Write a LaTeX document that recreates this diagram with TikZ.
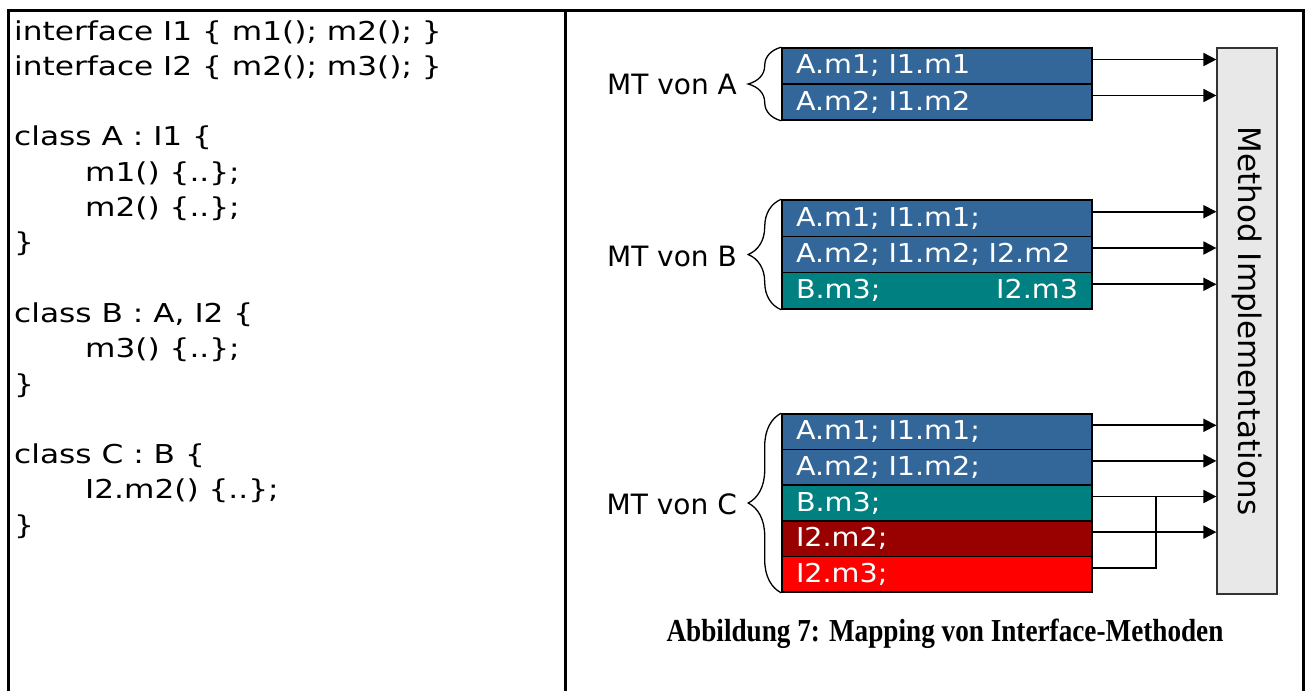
\documentclass[tikz,border=0pt]{standalone}
\usepackage{fontspec}
\setmainfont{DejaVu Sans}
\newfontfamily\codefont[FakeStretch=1.2]{DejaVu Sans}
\newfontfamily\cellfont[FakeStretch=1.1]{DejaVu Sans}
\newfontfamily\capfont[FakeStretch=0.85]{Liberation Serif}
\usetikzlibrary{arrows.meta,calc,decorations.pathreplacing}
\definecolor{mtblue}{HTML}{336699}
\definecolor{mtteal}{HTML}{008080}
\definecolor{mtdark}{HTML}{990000}
\definecolor{mtred}{HTML}{FF0000}
\definecolor{implgray}{HTML}{E8E8E8}
\begin{document}
\begin{tikzpicture}[x=1pt,y=-1pt,
  frame/.style={line width=3pt},
  code/.style={anchor=base west,inner sep=0pt,font=\codefont\fontsize{26pt}{30pt}\selectfont},
  cell/.style={draw=black,line width=1.6pt,minimum width=310pt,inner xsep=14pt,inner ysep=0pt,
    text=white,text width=282pt,align=left,font=\cellfont\fontsize{26pt}{30pt}\selectfont},
  mtlabel/.style={anchor=east,inner sep=0pt,font=\fontsize{28pt}{32pt}\selectfont},
  mtbrace/.style={decorate,decoration={brace,amplitude=33pt},line width=1.3pt},
  arr/.style={line width=1.8pt,-{Triangle[length=13pt,width=13pt]}},
  link/.style={line width=1.8pt}
]
\useasboundingbox (0,0) rectangle (1308,691);

% outer frame and column divider
\draw[frame] (8.5,691) -- (8.5,10) -- (1303.5,10) -- (1303.5,691);
\draw[frame] (565.5,10) -- (565.5,691);

% source code
\node[code] (l1)  at (14,40)    {interface I1 \{ m1(); m2(); \}};
\node[code] (l2)  at (14,75.3)  {interface I2 \{ m2(); m3(); \}};
\node[code] (l3)  at (14,145.9) {class A : I1 \{};
\node[code] (l4)  at (85,181.2) {m1() \{..\};};
\node[code] (l5)  at (85,216.5) {m2() \{..\};};
\node[code] (l6)  at (14,251.8) {\}};
\node[code] (l7)  at (14,322.4) {class B : A, I2 \{};
\node[code] (l8)  at (85,357.7) {m3() \{..\};};
\node[code] (l9)  at (14,393)   {\}};
\node[code] (l10) at (14,463.6) {class C : B \{};
\node[code] (l11) at (85,498.9) {I2.m2() \{..\};};
\node[code] (l12) at (14,534.2) {\}};

% method table of A
\node[cell,fill=mtblue,minimum height=36pt] (a1) at (937,66)  {A.m1; I1.m1};
\node[cell,fill=mtblue,minimum height=36pt] (a2) at (937,102) {A.m2; I1.m2};

% method table of B
\node[cell,fill=mtblue,minimum height=36.3pt] (b1) at (937,218.2) {A.m1; I1.m1;};
\node[cell,fill=mtblue,minimum height=36.3pt] (b2) at (937,254.5) {\makebox[282pt][l]{A.m2; I1.m2; I2.m2}};
\node[cell,fill=mtteal,minimum height=36.3pt] (b3) at (937,290.8) {\makebox[282pt]{B.m3;\hfill I2.m3}};

% method table of C
\node[cell,fill=mtblue,minimum height=35.6pt] (c1) at (937,431.8) {A.m1; I1.m1;};
\node[cell,fill=mtblue,minimum height=35.6pt] (c2) at (937,467.4) {A.m2; I1.m2;};
\node[cell,fill=mtteal,minimum height=35.6pt] (c3) at (937,503)   {B.m3;};
\node[cell,fill=mtdark,minimum height=35.6pt] (c4) at (937,538.6) {I2.m2;};
\node[cell,fill=mtred,minimum height=35.6pt]  (c5) at (937,574.2) {I2.m3;};

% method implementations (rotated: its south side faces the tables)
\node[draw=black!80,line width=1.2pt,fill=implgray,rotate=-90,minimum width=546pt,minimum height=60pt,
  font=\fontsize{31pt}{34pt}\selectfont] (mi) at (1247,321) {Method Implementations};

% braces and labels
\draw[mtbrace] (a2.south west) -- (a1.north west);
\draw[mtbrace] (b3.south west) -- (b1.north west);
\draw[mtbrace] (c5.south west) -- (c1.north west);
\node[mtlabel] (ta) at (737,84)  {MT von A};
\node[mtlabel] (tb) at (737,256) {MT von B};
\node[mtlabel] (tc) at (737,504) {MT von C};

% table entries to implementations
\foreach \r in {a1,a2,b1,b2,b3,c1,c2,c3,c4}{
  \draw[arr] ($(\r.east)+(-2,-6.5)$) coordinate (s\r) -- (s\r -| mi.south);
}
\coordinate (join) at ($(c3.east)+(63,-6.5)$);
\draw[link] ($(c5.east)+(-2,-6.5)$) coordinate (sc5) -| (join);

% caption
\node[font=\capfont\bfseries\fontsize{32pt}{36pt}\selectfont,inner sep=0pt] (cap) at (945,634)
  {Abbildung 7: Mapping von Interface-Methoden};
\end{tikzpicture}
\end{document}
